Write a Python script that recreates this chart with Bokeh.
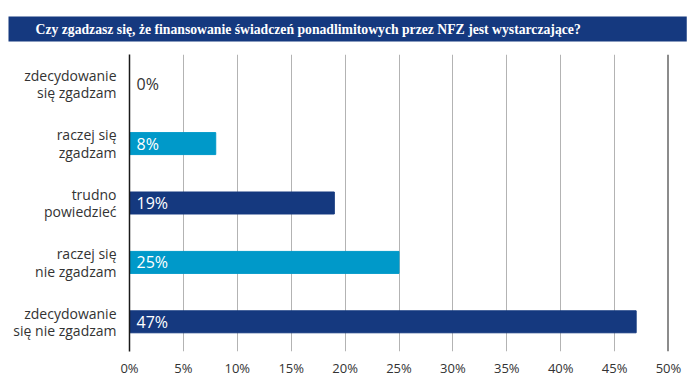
from bokeh.plotting import figure
from bokeh.models import (FactorRange, Range1d, Span, LabelSet, ColumnDataSource,
                          FixedTicker, Title)
from bokeh.embed import file_html
from bokeh.resources import INLINE
from bokeh.core.properties import value

title_text = "Czy zgadzasz się, że finansowanie świadczeń ponadlimitowych przez NFZ jest wystarczające?"
categories = ["zdecydowanie\nsię zgadzam", "raczej się\nzgadzam", "trudno\npowiedzieć",
              "raczej się\nnie zgadzam", "zdecydowanie\nsię nie zgadzam"]
values = [0, 8, 19, 25, 47]
tick_values = [0, 5, 10, 15, 20, 25, 30, 35, 40, 45, 50]
tick_labels = [f"{t}%" for t in tick_values]

NAVY = "#15397f"
LIGHT = "#0099c9"
TEXT = "#333333"
bar_colors = [NAVY, LIGHT, NAVY, LIGHT, NAVY]
label_colors = [TEXT if v == 0 else "white" for v in values]

source = ColumnDataSource(dict(
    cat=categories, val=values, zero=[0] * len(values),
    color=bar_colors, lcolor=label_colors,
    label=[f"{v}%" for v in values],
))

p = figure(width=688, height=383,
           y_range=FactorRange(factors=list(reversed(categories)), range_padding=0),
           x_range=Range1d(tick_values[0], tick_values[-1]),
           toolbar_location=None, output_backend="svg",
           min_border_left=129, min_border_right=20, min_border_top=54, min_border_bottom=32,
           outline_line_color=None)

title = Title(text=title_text, align="left", offset=-121, standoff=26,
              text_color="white", text_font="Liberation Serif", text_font_style="bold",
              text_font_size="13.7px", background_fill_color=NAVY,
              padding=dict(left=27, right=106, top=5, bottom=5))
p.add_layout(title, "above")

p.hbar(y="cat", left="zero", right="val", height=0.37, color="color", source=source)

p.add_layout(LabelSet(x="zero", y="cat", text="label", source=source, x_offset=7,
                      text_baseline="middle", text_color="lcolor",
                      text_font=value("Open Sans"), text_font_size="16px"))

p.xaxis.ticker = FixedTicker(ticks=tick_values)
p.xaxis.major_label_overrides = {t: l for t, l in zip(tick_values, tick_labels)}
p.xaxis.axis_line_color = None
p.xaxis.major_tick_line_color = None
p.xaxis.major_tick_out = 0
p.xaxis.major_tick_in = 0
p.xaxis.minor_tick_line_color = None
p.xaxis.major_label_standoff = 7
p.xaxis.major_label_text_font = "Open Sans"
p.xaxis.major_label_text_font_size = "13px"
p.xaxis.major_label_text_color = TEXT

p.yaxis.axis_line_color = "#1a1a1a"
p.yaxis.axis_line_width = 1.5
p.yaxis.major_tick_line_color = None
p.yaxis.major_tick_out = 0
p.yaxis.major_tick_in = 0
p.yaxis.minor_tick_line_color = None
p.yaxis.major_label_standoff = 13
p.yaxis.major_label_text_font = "Open Sans"
p.yaxis.major_label_text_font_size = "14px"
p.yaxis.major_label_text_color = TEXT
p.yaxis.major_label_text_align = "right"
p.yaxis.major_label_text_line_height = 0.92

p.xgrid.ticker = FixedTicker(ticks=tick_values)
p.xgrid.grid_line_color = "#b3b3b3"
p.xgrid.grid_line_width = 1
p.ygrid.grid_line_color = None

p.add_layout(Span(location=tick_values[-1], dimension="height", line_color="#1a1a1a", line_width=2))

open("out.html", "w").write(file_html(p, INLINE))
